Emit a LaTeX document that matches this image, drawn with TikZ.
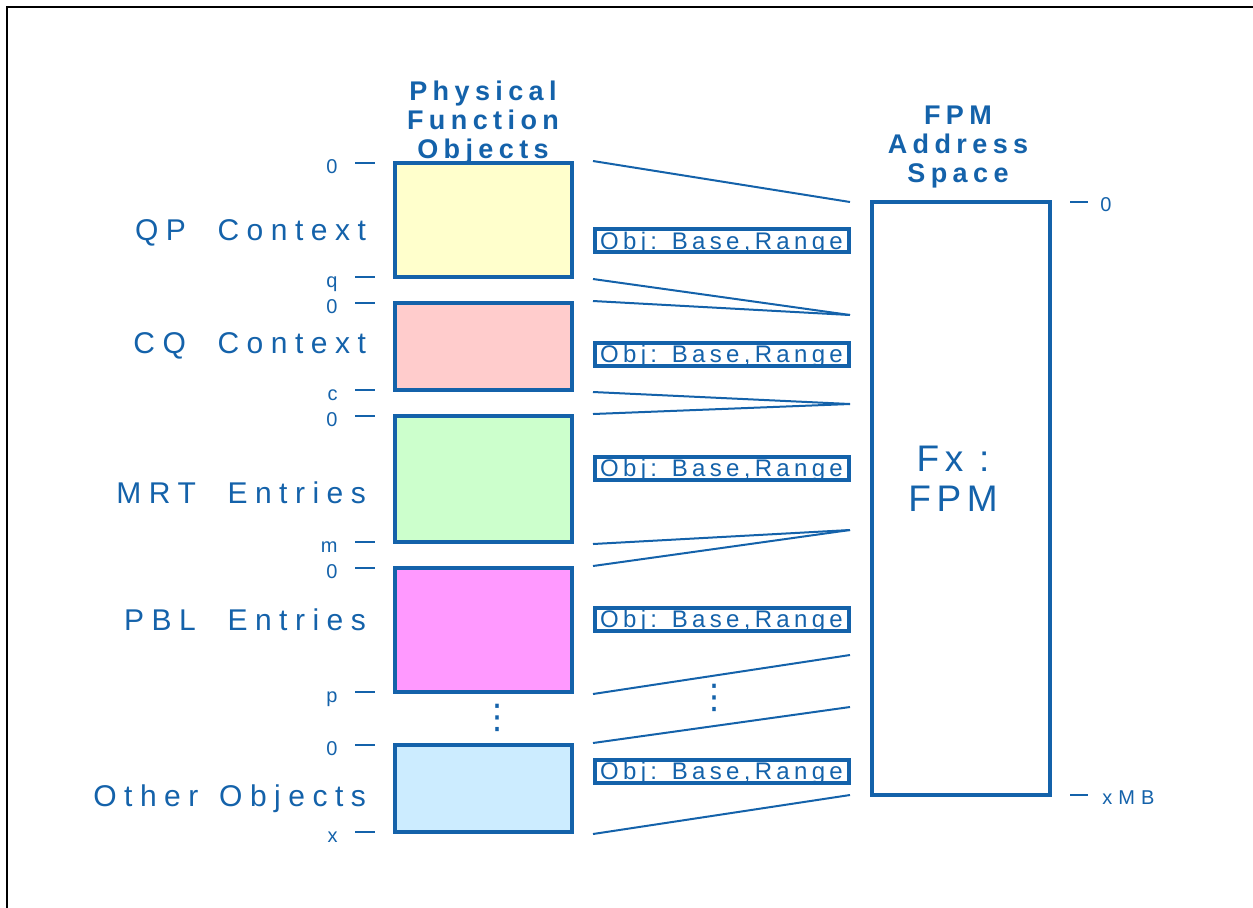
\documentclass[tikz,border=0pt]{standalone}
\usepackage{fontspec}
\setmainfont{Liberation Sans}
\newfontfamily\lblfont[LetterSpace=25]{Liberation Sans}
\newfontfamily\hdrfont[LetterSpace=20]{Liberation Sans}
\newfontfamily\objfont[LetterSpace=18]{Liberation Sans}
\newfontfamily\fxfont[LetterSpace=15]{Liberation Sans}
\newfontfamily\symfont{DejaVu Sans}

\definecolor{fpmblue}{HTML}{1462AA}
\definecolor{qpfill}{HTML}{FFFFCC}
\definecolor{cqfill}{HTML}{FFCCCC}
\definecolor{mrtfill}{HTML}{CCFFCC}
\definecolor{pblfill}{HTML}{FF99FF}
\definecolor{othfill}{HTML}{CCECFF}

\tikzset{
  fnobj/.style={draw=fpmblue, line width=2pt, minimum width=88.5pt, inner sep=0pt},
  objtag/.style={draw=fpmblue, line width=2pt, fill=white, minimum width=127pt,
    minimum height=11.5pt, inner sep=0pt, text height=8.6pt, text depth=0pt,
    text=fpmblue, font=\objfont\fontsize{12}{14}\selectfont},
  rowlbl/.style={anchor=base east, text=fpmblue, font=\lblfont\fontsize{15}{18}\selectfont},
  hdr/.style={align=center, text=fpmblue, font=\hdrfont\bfseries\fontsize{13.5}{14.5}\selectfont},
  ticklbl/.style={text=fpmblue, inner sep=0pt, font=\lblfont\fontsize{10}{12}\selectfont},
  tick/.style={fpmblue, line width=1.3pt},
  link/.style={fpmblue, line width=1pt},
  vdotsnode/.style={text=fpmblue, inner sep=0pt, font=\symfont\fontsize{17}{19}\selectfont},
}

\begin{document}
\begin{tikzpicture}[x=0.5pt, y=-0.5pt]
    \useasboundingbox (0,0) rectangle (1253,907);
    % frame, cut off by the page on the right and at the bottom
    \draw[black, line width=1pt] (7,930) -- (7,7) -- (1270,7);

    % headers
    \node[hdr] (pfohdr) at (483,123) {Physical\\Function\\Objects};
    \node[hdr] (fpmhdr) at (958,147) {FPM\\Address\\Space};

    % physical function objects
    \node[fnobj, fill=qpfill, minimum height=57pt] (qp) at (483.5,220) {};
    \node[fnobj, fill=cqfill, minimum height=43.5pt] (cq) at (483.5,346.5) {};
    \node[fnobj, fill=mrtfill, minimum height=63pt] (mrt) at (483.5,479) {};
    \node[fnobj, fill=pblfill, minimum height=62pt] (pbl) at (483.5,630) {};
    \node[fnobj, fill=othfill, minimum height=43.5pt] (oth) at (483.5,788.5) {};
    \node[vdotsnode] (ldots) at (497,718) {⋮};

    \node[rowlbl] (qplbl) at (373,240) {QP\ \ Context};
    \node[rowlbl] (cqlbl) at (373,353) {CQ\ \ Context};
    \node[rowlbl] (mrtlbl) at (373,503) {MRT\ \ Entries};
    \node[rowlbl] (pbllbl) at (373,630) {PBL\ \ Entries};
    \node[rowlbl] (othlbl) at (373,806) {Other\, Objects};

    % offsets of each object
    \foreach \y/\t [count=\i] in {163/0, 277/q, 303/0, 390/c, 416/0, 542/m, 568/0, 692/p, 745/0, 832/x} {
        \draw[tick] (355,\y) -- (375,\y);
        \node[ticklbl, anchor=base east] (off\i) at (338,{\y+10}) {\t};
    }

    % FPM address space
    \node[fnobj, minimum width=89pt, minimum height=296.5pt] (fpm) at (961,498.5) {};
    \node[align=center, text=fpmblue, font=\fxfont\fontsize{18.5}{20}\selectfont] (fxfpm) at (953,479) {Fx :\\FPM};
    \draw[tick] (1070,202) -- (1088,202);
    \node[ticklbl, anchor=base west] (fpm0) at (1100,211) {0};
    \draw[tick] (1070,795) -- (1088,795);
    \node[ticklbl, anchor=base west] (fpmx) at (1102,804) {x\hspace{3pt}M\hspace{3pt}B};

    \coordinate (f0) at (850,202);
    \coordinate (f1) at (850,315);
    \coordinate (f2) at (850,404);
    \coordinate (f3) at (850,530);
    \coordinate (f4) at (850,655);
    \coordinate (f5) at (850,707);
    \coordinate (f6) at (850,795);

    \draw[link] ([xshift=9.5pt]qp.north east) -- (f0);
    \draw[link] ([xshift=9.5pt]qp.south east) -- (f1);
    \draw[link] ([xshift=9.5pt]cq.north east) -- (f1);
    \draw[link] ([xshift=9.5pt]cq.south east) -- (f2);
    \draw[link] ([xshift=9.5pt]mrt.north east) -- (f2);
    \draw[link] ([xshift=9.5pt]mrt.south east) -- (f3);
    \draw[link] ([xshift=9.5pt]pbl.north east) -- (f3);
    \draw[link] ([xshift=9.5pt]pbl.south east) -- (f4);
    \draw[link] ([xshift=9.5pt]oth.north east) -- (f5);
    \draw[link] ([xshift=9.5pt]oth.south east) -- (f6);
    \node[vdotsnode] (rdots) at (714,698) {⋮};

    % object descriptors
    \node[objtag] (qptag) at (721.5,240.5) {Obj: Base,Range};
    \node[objtag] (cqtag) at (721.5,354) {Obj: Base,Range};
    \node[objtag] (mrttag) at (721.5,468) {Obj: Base,Range};
    \node[objtag] (pbltag) at (721.5,619) {Obj: Base,Range};
    \node[objtag] (othtag) at (721.5,771) {Obj: Base,Range};
\end{tikzpicture}
\end{document}
